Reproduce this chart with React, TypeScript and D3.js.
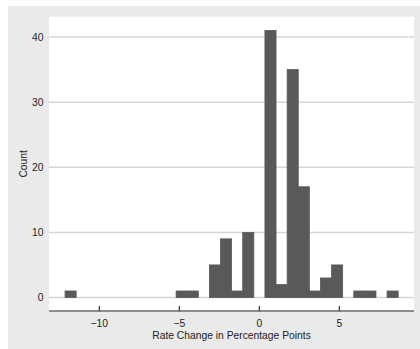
import React, { useEffect, useRef } from 'react';
import * as d3 from 'd3';

// Histogram counts, 30 equal-width bins
const counts = [1, 0, 0, 0, 0, 0, 0, 0, 0, 0, 1, 1, 0, 5, 9, 1, 10, 0, 41, 2, 35, 17, 1, 3, 5, 0, 1, 1, 0, 1];
const binStart = -12.14;
const binWidth = 0.694;
const xTicks = [-10, -5, 0, 5];
const yTicks = [0, 10, 20, 30, 40];
const xTitle = 'Rate Change in Percentage Points';
const yTitle = 'Count';

const App = () => {
  const ref = useRef<SVGSVGElement | null>(null);

  useEffect(() => {
    const width = 412;
    const height = 343;
    // plot region (svg coords; svg sits at page 8,6)
    const left = 41;
    const right = 406;
    const top = 10.7;
    const axisY = 305;

    const svg = d3.select(ref.current);
    svg.selectAll('*').remove();

    svg.append('rect').attr('width', width).attr('height', height).attr('fill', '#eaeaea');
    svg
      .append('rect')
      .attr('x', left)
      .attr('y', top)
      .attr('width', right - left)
      .attr('height', axisY - top)
      .attr('fill', '#ffffff');

    const x = d3.scaleLinear().domain([-10, 5]).range([91.3, 331.3]);
    const y = d3.scaleLinear().domain([0, 40]).range([291.5, 31]);

    // gridlines
    svg
      .append('g')
      .selectAll('line')
      .data(yTicks)
      .join('line')
      .attr('x1', left)
      .attr('x2', right)
      .attr('y1', (d) => y(d))
      .attr('y2', (d) => y(d))
      .attr('stroke', '#d6d6d6')
      .attr('stroke-width', 1.5);

    // bars
    const bins = counts.map((c, i) => ({ x0: binStart + i * binWidth, x1: binStart + (i + 1) * binWidth, c }));
    svg
      .append('g')
      .selectAll('rect')
      .data(bins)
      .join('rect')
      .attr('x', (d) => x(d.x0))
      .attr('width', (d) => x(d.x1) - x(d.x0))
      .attr('y', (d) => y(d.c))
      .attr('height', (d) => y(0) - y(d.c))
      .attr('fill', '#595959')
      .attr('stroke', '#595959')
      .attr('stroke-width', 0.8);

    // x axis
    svg
      .append('line')
      .attr('x1', left)
      .attr('x2', right)
      .attr('y1', axisY)
      .attr('y2', axisY)
      .attr('stroke', '#6a6a6a')
      .attr('stroke-width', 1.4);

    svg
      .append('g')
      .selectAll('line')
      .data(xTicks)
      .join('line')
      .attr('x1', (d) => x(d))
      .attr('x2', (d) => x(d))
      .attr('y1', axisY - 5)
      .attr('y2', axisY)
      .attr('stroke', '#111')
      .attr('stroke-width', 1);

    const font = 'Liberation Sans, Arial, sans-serif';

    svg
      .append('g')
      .selectAll('text')
      .data(xTicks)
      .join('text')
      .attr('x', (d) => x(d))
      .attr('y', 320.5)
      .attr('text-anchor', 'middle')
      .attr('font-family', font)
      .attr('font-size', 10.3)
      .attr('fill', '#222')
      .text((d) => (d < 0 ? '\u2212' + Math.abs(d) : String(d)));

    svg
      .append('g')
      .selectAll('text')
      .data(yTicks)
      .join('text')
      .attr('x', 35.5)
      .attr('y', (d) => y(d) + 3.6)
      .attr('text-anchor', 'end')
      .attr('font-family', font)
      .attr('font-size', 10.3)
      .attr('fill', '#222')
      .text((d) => String(d));

    svg
      .append('text')
      .attr('x', (left + right) / 2)
      .attr('y', 333.3)
      .attr('text-anchor', 'middle')
      .attr('font-family', font)
      .attr('font-size', 10.3)
      .attr('fill', '#222')
      .text(xTitle);

    svg
      .append('text')
      .attr('transform', `translate(18.8, ${(top + axisY) / 2}) rotate(-90)`)
      .attr('text-anchor', 'middle')
      .attr('font-family', font)
      .attr('font-size', 10.3)
      .attr('fill', '#222')
      .text(yTitle);
  }, []);

  return (
    <svg
      ref={ref}
      width={412}
      height={343}
      style={{ position: 'absolute', left: 8, top: 6, display: 'block' }}
    />
  );
};

export default App;
